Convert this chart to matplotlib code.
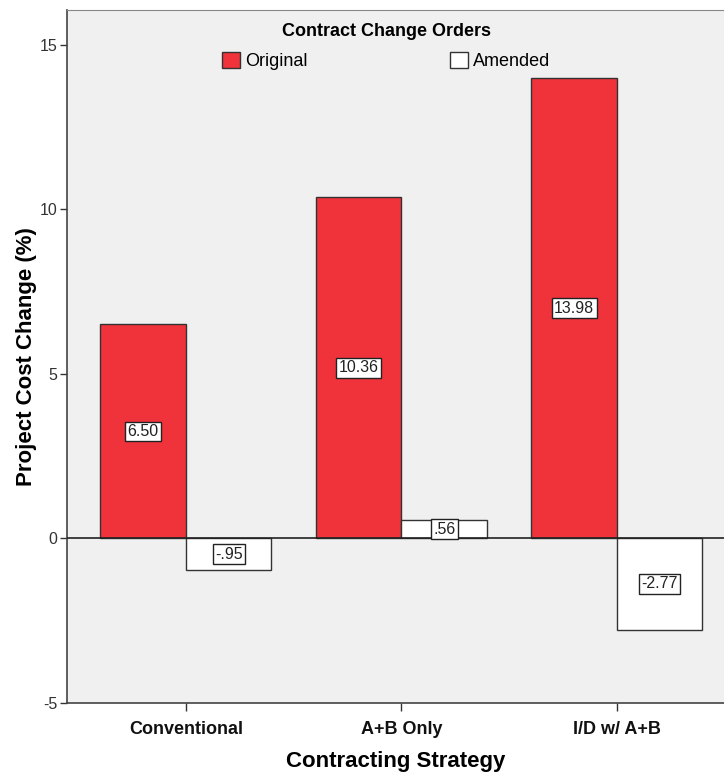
import numpy as np
import matplotlib.pyplot as plt
from matplotlib.patches import Patch

# 数据
strategies = ["Conventional", "A+B Only", "I/D w/ A+B"]
original = [6.50, 10.36, 13.98]
amended = [-0.95, 0.56, -2.77]
value_labels_orig = ["6.50", "10.36", "13.98"]
value_labels_amend = ["-.95", ".56", "-2.77"]
y_ticks = [-5, 0, 5, 10, 15]

RED = "#f0323a"
BG = "#f0f0f0"
EDGE = "#333333"

plt.rcParams['font.family'] = ['Liberation Sans', 'DejaVu Sans']

fig = plt.figure(figsize=(7.24, 7.72), dpi=100)
ax = fig.add_axes([67 / 724, 1 - 703 / 772, 1 - 67 / 724, (703 - 10) / 772])
ax.set_facecolor(BG)

x = np.arange(len(strategies))
width = 0.397

ax.bar(x - width / 2, original, width, color=RED, edgecolor=EDGE, linewidth=1.0, zorder=2)
ax.bar(x + width / 2, amended, width, color="white", edgecolor=EDGE, linewidth=1.0, zorder=2)
ax.axhline(0, color="#222222", linewidth=1.2, zorder=3)

# 数值标签（白底方框）
box = dict(boxstyle="square,pad=0.15", facecolor="white", edgecolor="#222222", linewidth=1.0)
for xi, v, s in zip(x - width / 2, original, value_labels_orig):
    ax.text(xi, v / 2, s, ha="center", va="center", fontsize=11.5, color="#222222", bbox=box, zorder=4)
for xi, v, s in zip(x + width / 2, amended, value_labels_amend):
    ax.text(xi, v / 2, s, ha="center", va="center", fontsize=11.5, color="#222222", bbox=box, zorder=4)

ax.set_xlim(-0.552, 2.497)
ax.set_ylim(-5, 16.05)
ax.set_xticks(x)
ax.set_xticklabels(strategies, fontsize=13, fontweight="bold", color="#111111")
ax.set_yticks(y_ticks)
ax.set_yticklabels([str(t) for t in y_ticks], fontsize=11.5, color="#333333")
ax.tick_params(axis="x", length=6, width=1, color="#333333", pad=7)
ax.tick_params(axis="y", length=5, width=1, color="#333333", pad=2)

for side in ["left", "bottom"]:
    ax.spines[side].set_color("#444444")
    ax.spines[side].set_linewidth(1.2)
ax.spines["top"].set_color("#888888")
ax.spines["right"].set_visible(False)

ax.set_xlabel("Contracting Strategy", fontsize=16, fontweight="bold", labelpad=9)
ax.set_ylabel("Project Cost Change (%)", fontsize=16, fontweight="bold", labelpad=2)

handles = [Patch(facecolor=RED, edgecolor=EDGE, linewidth=1.0),
           Patch(facecolor="white", edgecolor=EDGE, linewidth=1.0)]
leg = ax.legend(handles, ["Original", "Amended"], ncol=2, loc="upper center",
                bbox_to_anchor=(0.486, 1.0), frameon=False, fontsize=13,
                title="Contract Change Orders",
                title_fontproperties={"weight": "bold", "size": 13},
                handlelength=1.0, handleheight=1.0, handletextpad=0.28,
                columnspacing=7.9, borderpad=0.2, labelspacing=0.3)
leg._legend_box.sep = 9

fig.savefig("out.png", dpi=100)
